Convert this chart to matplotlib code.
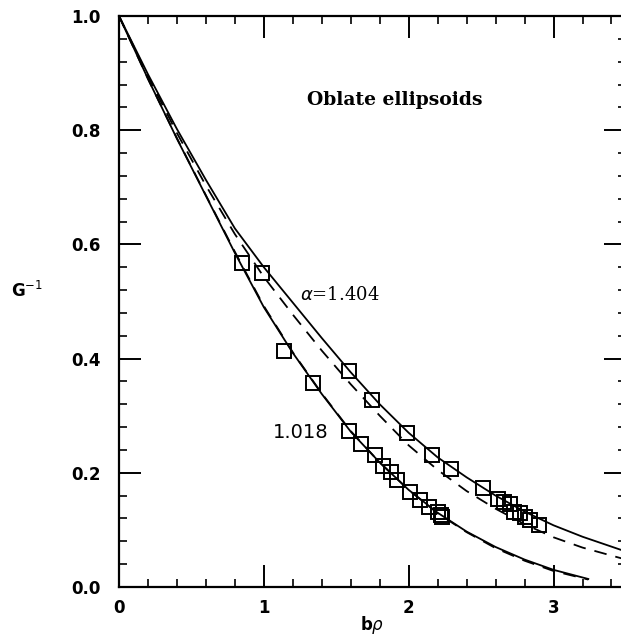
import numpy as np
import matplotlib
matplotlib.use('Agg')
import matplotlib.pyplot as plt
from matplotlib.ticker import MultipleLocator

# data
# alpha = 1.404 (upper set)
x_sq_a = [0.99, 1.59, 1.75, 1.99, 2.16, 2.29, 2.51, 2.62, 2.66, 2.70, 2.73, 2.77, 2.80, 2.84, 2.90]
y_sq_a = [0.550, 0.378, 0.327, 0.270, 0.231, 0.207, 0.173, 0.154, 0.149, 0.146, 0.131, 0.129, 0.123, 0.117, 0.109]

# alpha = 1.018 (lower set)
x_sq_b = [0.85, 1.14, 1.34, 1.59, 1.67, 1.77, 1.82, 1.875, 1.92, 2.01, 2.08, 2.14, 2.20, 2.22, 2.23]
y_sq_b = [0.567, 0.413, 0.357, 0.273, 0.250, 0.231, 0.212, 0.201, 0.187, 0.166, 0.152, 0.140, 0.131, 0.126, 0.122]

# curves
x_curve = [0, 0.2, 0.4, 0.6, 0.8, 1.0, 1.2, 1.4, 1.6, 1.8, 2.0, 2.2, 2.4, 2.6, 2.8, 3.0, 3.2, 3.5]
y_solid_a = [1.0, 0.898, 0.802, 0.713, 0.628, 0.56, 0.498, 0.436, 0.376, 0.32, 0.27, 0.227, 0.192, 0.16, 0.132, 0.108, 0.088, 0.062]
y_dash_a = [1.0, 0.895, 0.795, 0.703, 0.618, 0.543, 0.477, 0.414, 0.355, 0.30, 0.248, 0.205, 0.168, 0.137, 0.11, 0.087, 0.069, 0.048]

x_curve_b = [0, 0.2, 0.4, 0.6, 0.8, 1.0, 1.2, 1.4, 1.6, 1.8, 2.0, 2.2, 2.4, 2.6, 2.8, 3.0, 3.24]
y_solid_b = [1.0, 0.89, 0.785, 0.685, 0.585, 0.49, 0.41, 0.338, 0.272, 0.218, 0.17, 0.13, 0.097, 0.07, 0.048, 0.03, 0.014]
y_dash_b = [1.0, 0.89, 0.786, 0.686, 0.587, 0.492, 0.411, 0.339, 0.273, 0.218, 0.17, 0.129, 0.096, 0.068, 0.046, 0.028, 0.013]

fig = plt.figure(figsize=(6.21, 6.42), dpi=100)
ax = fig.add_axes([0.1916, 0.0857, 0.8164, 0.8894])

lw = 1.3
ax.plot(x_curve, y_solid_a, 'k-', lw=lw)
ax.plot(x_curve, y_dash_a, 'k--', lw=lw, dashes=(7, 5))
ax.plot(x_curve_b, y_solid_b, 'k-', lw=lw)
ax.plot(x_curve_b, y_dash_b, 'k--', lw=lw, dashes=(7, 5))

ax.plot(x_sq_a, y_sq_a, 's', ms=9.5, mfc='none', mec='k', mew=1.4)
ax.plot(x_sq_b, y_sq_b, 's', ms=9.5, mfc='none', mec='k', mew=1.4)

ax.set_xlim(0, 3.5)
ax.set_ylim(0, 1.0)
ax.xaxis.set_major_locator(MultipleLocator(1))
ax.xaxis.set_minor_locator(MultipleLocator(0.2))
ax.yaxis.set_major_locator(MultipleLocator(0.2))
ax.yaxis.set_minor_locator(MultipleLocator(0.04))
ax.xaxis.set_major_formatter(plt.FuncFormatter(lambda v, p: '%d' % v))
ax.yaxis.set_major_formatter(plt.FuncFormatter(lambda v, p: '%.1f' % v))

ax.tick_params(which='both', direction='in', top=True, right=True, color='k')
ax.tick_params(which='major', length=16, width=1.4)
ax.tick_params(which='minor', length=6, width=1.2)
ax.tick_params(axis='y', which='major', pad=13, labelsize=12)
ax.tick_params(axis='x', which='major', pad=9, labelsize=12)
for lab in ax.get_xticklabels() + ax.get_yticklabels():
    lab.set_fontweight('bold')
for s in ax.spines.values():
    s.set_linewidth(1.6)

ax.set_xlabel(r'b$\rho$', fontsize=12, fontweight='bold')
ax.xaxis.set_label_coords(0.5, -0.048)
ax.set_ylabel(r'G$^{-1}$', fontsize=12, fontweight='bold', rotation=0)
ax.yaxis.set_label_coords(-0.182, 0.5)

ax.text(1.30, 0.853, 'Oblate ellipsoids', fontsize=13.5, fontweight='bold',
        family='DejaVu Serif', va='center', ha='left')
ax.text(1.25, 0.511, r'$\alpha$=1.404', fontsize=13, family='DejaVu Serif',
        va='center', ha='left')
ax.text(1.06, 0.271, '1.018', fontsize=14, family='DejaVu Sans', va='center', ha='left')

fig.savefig('out.png', dpi=100)
